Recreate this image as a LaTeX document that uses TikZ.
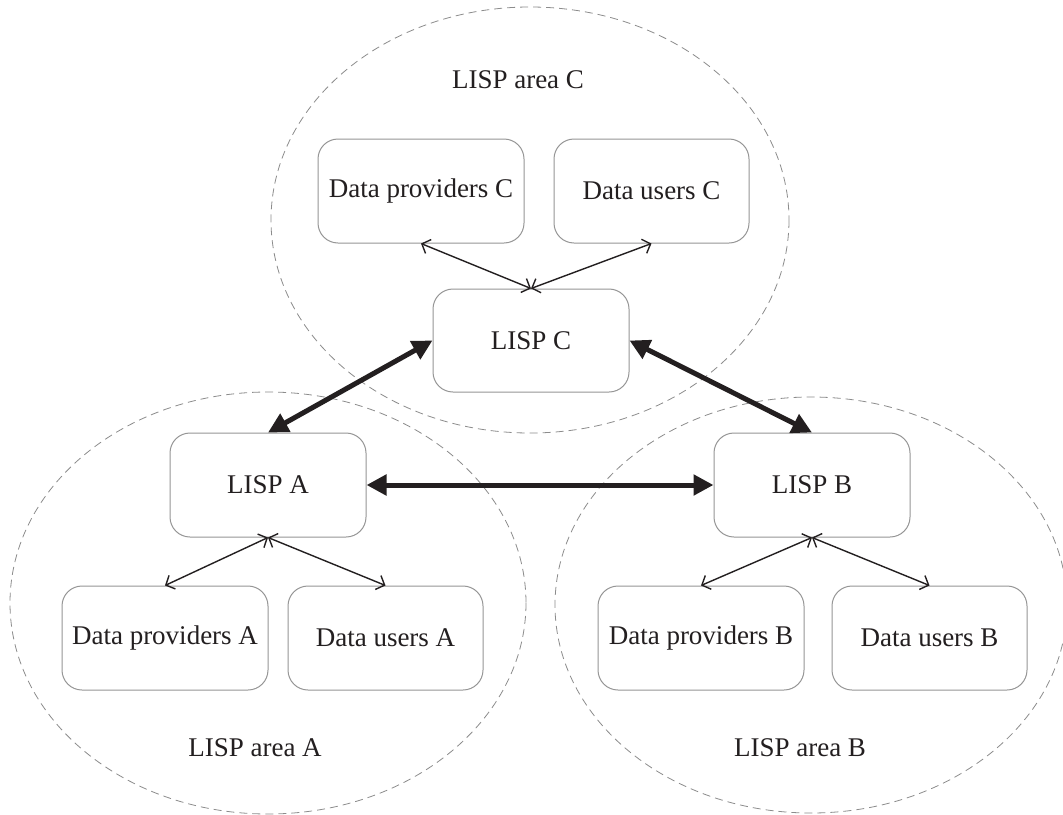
\documentclass[tikz,border=0pt]{standalone}
\usepackage{fontspec}
\setmainfont{Liberation Serif}
\usetikzlibrary{arrows.meta}
\definecolor{ink}{RGB}{35,31,32}
\definecolor{boxgray}{RGB}{150,150,150}
\definecolor{areagray}{RGB}{140,140,140}
\tikzset{
  box/.style={draw=boxgray, line width=1pt, rounded corners=20pt, inner sep=0pt,
    minimum height=104pt, text=ink, font=\fontsize{27}{32}\selectfont},
  wide/.style={box, minimum width=206pt},
  narrow/.style={box, minimum width=195pt},
  lispbox/.style={box, minimum width=196pt},
  area/.style={draw=areagray, line width=0.8pt, dash pattern=on 8pt off 5pt},
  arealabel/.style={text=ink, font=\fontsize{27}{32}\selectfont, inner sep=0pt},
  thin/.style={draw=ink, line width=1.4pt, {Straight Barb[length=7pt,width=15pt]}-{Straight Barb[length=7pt,width=15pt]}},
  thick/.style={draw=ink, line width=5pt, {Triangle[length=20pt,width=20pt]}-{Triangle[length=20pt,width=20pt]}}
}
\begin{document}
\begin{tikzpicture}[x=1pt,y=-1pt]
\useasboundingbox (0,0) rectangle (1063,814);
\fill[white] (0,0) rectangle (1063,814);
% areas
\draw[area] (530,220) ellipse [x radius=259, y radius=213];
\draw[area] (268,603) ellipse [x radius=258, y radius=211];
\draw[area] (811,605) ellipse [x radius=256, y radius=208];
\node[arealabel] (labC) at (518,80) {LISP area C};
\node[arealabel] (labA) at (255,748) {LISP area A};
\node[arealabel] (labB) at (800,748) {LISP area B};
% boxes
\node[wide] (dpC) at (421,191) {Data providers C};
\node[narrow] (duC) at (651.5,191) {Data users C};
\node[lispbox, minimum height=103pt] (lispC) at (531,340.5) {LISP C};
\node[lispbox] (lispA) at (268,485) {LISP A};
\node[lispbox] (lispB) at (812,485) {LISP B};
\node[wide] (dpA) at (165,638) {Data providers A};
\node[narrow] (duA) at (385.5,638) {Data users A};
\node[wide] (dpB) at (701,638) {Data providers B};
\node[narrow] (duB) at (929.5,638) {Data users B};
% thin connectors
\draw[thin] (lispC.north) -- (dpC.south);
\draw[thin] (lispC.north) -- (duC.south);
\draw[thin] (lispA.south) -- (dpA.north);
\draw[thin] (lispA.south) -- (duA.north);
\draw[thin] (lispB.south) -- (dpB.north);
\draw[thin] (lispB.south) -- (duB.north);
% thick connectors
\draw[thick] (lispA.north) -- (lispC.west);
\draw[thick] (lispC.east) -- (lispB.north);
\draw[thick] (lispA.east) -- (lispB.west);
\end{tikzpicture}
\end{document}
